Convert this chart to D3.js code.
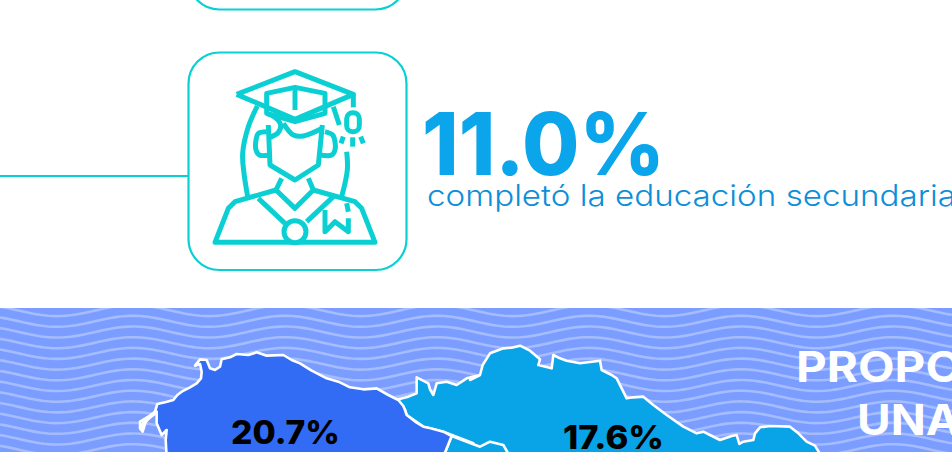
<!DOCTYPE html>
<html><head><meta charset="utf-8">
<script src="https://cdn.jsdelivr.net/npm/d3@7"></script>
<style>html,body{margin:0;padding:0;background:#fff;overflow:hidden}svg{display:block}</style>
</head><body><div id="c"></div>
<script>
const headlineValue = [11.0];
const headlineLabel = ["completó la educación secundaria"];
const regionValues = [20.7, 17.6];
const titleLines = ["PROPO", "UNA"];

// Outlines (in 3x-zoom crop units)
const regionA = [[420,365],[445,350],[465,335],[472,312],[498,306],[520,300],[532,285],[545,275],[570,262],[590,250],[603,235],[605,215],[600,192],[585,197],[600,178],[620,180],[630,205],[645,210],[660,200],[665,178],[690,172],[710,162],[745,165],[770,157],[800,167],[850,165],[875,180],[900,190],[935,212],[980,235],[1015,245],[1050,262],[1090,268],[1130,265],[1165,285],[1195,300],[1210,318],[1215,330],[1220,345],[1250,368],[1270,380],[1292,385],[1330,395],[1355,408],[1330,470],[500,470],[497,420],[500,390],[485,405],[470,370],[470,335],[445,350],[435,372],[428,395],[420,385]];
const regionBTop = [[1195,298],[1225,290],[1250,280],[1250,232],[1285,250],[1290,268],[1300,285],[1310,250],[1340,245],[1370,255],[1400,235],[1440,225]];
const regionBRest = [[0,240],[30,225],[38,195],[60,160],[100,145],[125,143],[150,137],[180,152],[210,178],[205,195],[245,205],[250,165],[270,175],[290,182],[330,190],[390,182],[395,210],[425,225],[440,235],[455,265],[470,295],[490,292],[520,290],[550,315],[590,345],[640,380],[680,400],[700,395],[720,405],[750,420],[785,408],[800,405],[808,432],[820,425],[850,420],[855,400],[870,382],[900,378],[960,380],[985,400],[1010,425],[1035,437],[1055,470]];
const regionBLow = [[1420,470],[1420,430],[1330,395],[1270,380],[1220,345],[1215,330],[1195,300]];
const regionC = [[1355,408],[1440,440],[1470,425],[1510,435],[1530,470],[1330,470]];
const capeStroke = [[425,392],[430,368],[450,350],[470,335]];

// Icon strokes (3x-zoom crop units)
const iconPaths = [
 [[200,283],[375,215],[550,283],[375,358],[200,283]],
 [[290,318],[290,280],[375,262],[465,280],[465,340],[375,365],[290,340],[290,318]],
 [[375,270],[375,330]],
 [[550,283],[550,322]],
 [[490,320],[508,375]],
 [[520,410],[513,430]],[[548,412],[548,440]],[[572,410],[580,430]],
 [[295,375],[300,495],[375,540],[445,495],[457,375]],
 [[335,535],[318,570],[375,625],[430,570],[415,535]],
 [[318,570],[195,605],[175,625],[135,727],[615,727],[575,625],[555,605],[430,570]],
 [[265,595],[345,670]],[[410,665],[490,590]],
 [[465,630],[465,695],[495,665],[535,695],[535,655]],
 [[535,635],[530,610]]
];
const iconCurves = [
 [[262,318],[235,380],[218,460],[222,520],[233,590]],
 [[530,455],[532,510],[515,590]],
 [[340,370],[370,405],[400,408],[457,385]],
 [[300,412],[325,397],[332,375],[315,352],[290,340]],
 [[290,395],[265,400],[258,420],[258,450],[268,465],[298,465]],
 [[465,395],[488,405],[495,425],[495,450],[485,465],[450,465]]
];
const tasselBox = [[530,338,568,395]];
const medalCircle = [[375,695,33]];

const W = 952, H = 452;
const svg = d3.select("#c").append("svg").attr("width",W).attr("height",H).attr("viewBox",`0 0 ${W} ${H}`);
const teal = "#0ad0d4", sky = "#0aa5ea";

// ---- top card, connector, icon card
const ix = d3.scaleLinear().domain([0,3]).range([170,171]);
const iy = d3.scaleLinear().domain([0,3]).range([0,1]);
svg.append("rect").attr("x",188.5).attr("y",-200).attr("width",218).attr("height",209.5).attr("rx",31).attr("fill","#fff").attr("stroke",teal).attr("stroke-width",2.2);
svg.append("line").attr("x1",0).attr("x2",188).attr("y1",176).attr("y2",176).attr("stroke",teal).attr("stroke-width",2.2);
svg.append("rect").attr("x",188.5).attr("y",52.5).attr("width",218).attr("height",217.5).attr("rx",31).attr("fill","#fff").attr("stroke",teal).attr("stroke-width",2.2);

const iconLine = d3.line().x(d=>ix(d[0])).y(d=>iy(d[1]));
const iconCurve = d3.line().curve(d3.curveCatmullRom).x(d=>ix(d[0])).y(d=>iy(d[1]));
const icon = svg.append("g").attr("fill","none").attr("stroke",teal).attr("stroke-width",5).attr("stroke-linejoin","round");
icon.selectAll("path.p").data(iconPaths).join("path").attr("class","p").attr("d",iconLine);
icon.selectAll("path.c").data(iconCurves).join("path").attr("class","c").attr("d",iconCurve);
icon.selectAll("rect").data(tasselBox).join("rect")
  .attr("x",d=>ix(d[0])).attr("y",d=>iy(d[1])).attr("width",d=>ix(d[2])-ix(d[0])).attr("height",d=>iy(d[3])-iy(d[1])).attr("rx",6);
icon.selectAll("circle").data(medalCircle).join("circle")
  .attr("cx",d=>ix(d[0])).attr("cy",d=>iy(d[1])).attr("r",d=>d[2]/3).attr("fill","#fff");

// ---- headline
svg.append("text").attr("x",422).attr("y",175).attr("fill",sky)
  .attr("font-family","Inter, Lato, sans-serif").attr("font-weight",800).attr("font-size",86)
  .attr("textLength",243).attr("lengthAdjust","spacingAndGlyphs")
  .text(headlineValue[0].toFixed(1)+"%");
svg.append("text").attr("x",427).attr("y",206).attr("fill","#0c8fd8")
  .attr("font-family","Inter, sans-serif").attr("font-weight",300).attr("font-size",29.5)
  .attr("textLength",529).attr("lengthAdjust","spacingAndGlyphs")
  .text(headlineLabel[0]);

// ---- waves band
const band = svg.append("g");
band.append("rect").attr("x",0).attr("y",308).attr("width",W).attr("height",H-308).attr("fill","#7a9dff");
svg.append("clipPath").attr("id","bandClip").append("rect").attr("x",0).attr("y",308).attr("width",W).attr("height",H-308);
const rows = d3.range(0,15), xs = d3.range(0,W+4,4);
const waveLine = d3.line().x(d=>d[0]).y(d=>d[1]);
band.append("g").attr("clip-path","url(#bandClip)").attr("fill","none").attr("stroke","#a5bdff").attr("stroke-width",2.6)
  .selectAll("path").data(rows).join("path")
  .attr("d",r=>waveLine(xs.map(x=>[x, 310.6+r*10.7 + 5.5*Math.cos((x-57)*2*Math.PI/152)])));

// ---- map
const mx0 = d3.scaleLinear().domain([0,3]).range([0,1]);
const mx1 = d3.scaleLinear().domain([0,3]).range([470,471]);
const my = d3.scaleLinear().domain([0,3]).range([300,301]);
const pts = (arr,sx) => arr.map(d=>[sx(d[0]),my(d[1])]);
const closed = d3.line().curve(d3.curveLinearClosed);
const regionBShape = [...pts(regionBTop,mx0),...pts(regionBRest,mx1),...pts(regionBLow,mx0)];
const regionCShape = pts(regionC,mx0);
const regionAShape = pts(regionA,mx0);
const map = svg.append("g").attr("stroke","#fff").attr("stroke-width",2.6).attr("stroke-linejoin","round");
map.append("path").attr("d",closed(regionBShape)).attr("fill","#08a4e7");
map.append("path").attr("d",closed(regionCShape)).attr("fill","#08a4e7");
map.append("path").attr("d",closed(regionAShape)).attr("fill","#336cf4");
map.append("path").attr("d",d3.line()(pts(capeStroke,mx0))).attr("fill","none").attr("stroke-width",4);

const labelX = [231,563], labelY = [444,449], labelW = [109,101];
svg.selectAll("text.val").data(regionValues).join("text").attr("class","val")
  .attr("x",(d,i)=>labelX[i]).attr("y",(d,i)=>labelY[i])
  .attr("textLength",(d,i)=>labelW[i]).attr("lengthAdjust","spacingAndGlyphs")
  .attr("font-family","Inter, sans-serif").attr("font-weight",800).attr("font-size",32.5).attr("fill","#000")
  .text(d=>d.toFixed(1)+"%");

// ---- title (cut by the page edge)
const titleX=[796,857], titleY=[382,435], titleW=[166,103];
svg.selectAll("text.ttl").data(titleLines).join("text").attr("class","ttl")
  .attr("x",(d,i)=>titleX[i]).attr("y",(d,i)=>titleY[i])
  .attr("textLength",(d,i)=>titleW[i]).attr("lengthAdjust","spacingAndGlyphs")
  .attr("font-family","Inter, sans-serif").attr("font-weight",700).attr("font-size",42).attr("fill","#fff")
  .text(d=>d);
</script></body></html>
